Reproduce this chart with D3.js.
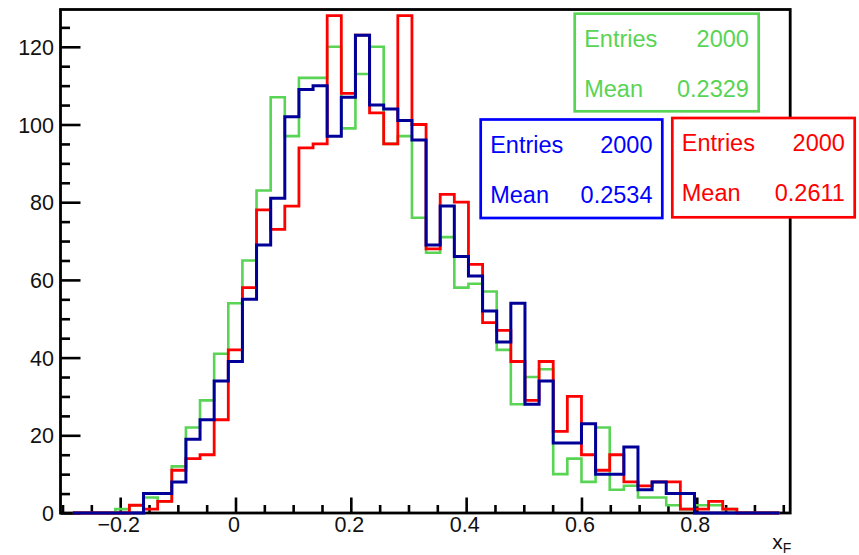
<!DOCTYPE html>
<html><head><meta charset="utf-8">
<script src="https://cdn.jsdelivr.net/npm/d3@7"></script>
<style>
html,body{margin:0;padding:0;background:#fff;}
svg{display:block;font-family:"Liberation Sans",Arial,Helvetica,sans-serif;}
</style>
</head><body>
<svg id="c" width="859" height="555"></svg>
<script>
// ---------------- data ----------------
const binLow = -0.282;
const binWidth = 0.0245;
const greenCounts = [0,0,0,1,2,4,3,12,22,29,41,54,65,83,107,97,112,112,120,99,113,120,95,97,76,67,71,58,59,57,42,28,35,37,10,14,8,22,6,7,4,4,2,1,2,2,1,0,0,0];
const redCounts   = [0,0,0,0,2,1,3,11,14,15,24,42,58,78,73,79,94,95,128,108,123,103,95,128,100,68,82,80,64,49,47,39,29,39,21,30,15,11,15,8,7,8,8,1,1,3,1,0,0,0];
const blueCounts  = [0,0,0,0,0,5,5,8,19,24,34,39,55,69,81,102,109,110,97,107,123,105,104,101,96,69,79,66,61,52,44,54,28,34,18,18,23,10,10,17,6,8,5,5,0,0,0,0,0,0];
const xMajorTicks = [-0.2,0,0.2,0.4,0.6,0.8];
const xTickLabels = ["\u22120.2","0","0.2","0.4","0.6","0.8"];
const xMinorTicks = [-0.3,-0.25,-0.15,-0.1,-0.05,0.05,0.1,0.15,0.25,0.3,0.35,0.45,0.5,0.55,0.65,0.7,0.75,0.85,0.9,0.95];
const yMajorTicks = [0,20,40,60,80,100,120];
const yTickLabels = ["0","20","40","60","80","100","120"];
const yMinorTicks = [5,10,15,25,30,35,45,50,55,65,70,75,85,90,95,105,110,115,125];
const statEntries = ["2000","2000","2000"];
const statMeans = ["0.2329","0.2534","0.2611"];
const statLabels = ["Entries","Mean"];
const xTitle = "x", xTitleSub = "F";

// ---------------- layout / style ----------------
const F = {left:60.5, right:790.2, top:9.5, bottom:513};
const xDomain = [-0.3035, 0.962];
const yDomain = [0, 129.6];
const histColors = {green:"#59d454", red:"#ff0000", blue:"#000099"};
const boxColors = ["#59d454", "#0000ff", "#ff0000"];
const boxes = [
  {x0:574.7, x1:758.7, y0:13.7, y1:111.3},
  {x0:480.7, x1:662.3, y0:119.5, y1:218},
  {x0:672.3, x1:854.7, y0:118, y1:217.3}
];

const svg = d3.select("#c");
svg.append("rect").attr("width",859).attr("height",555).attr("fill","#fff");

const x = d3.scaleLinear().domain(xDomain).range([F.left, F.right]);
const y = d3.scaleLinear().domain(yDomain).range([F.bottom, F.top]);

// axes (ticks inward)
const gx = svg.append("g").attr("transform",`translate(0,${F.bottom})`)
  .call(d3.axisBottom(x).tickValues(xMajorTicks).tickSizeInner(-15.5).tickSizeOuter(0)
        .tickFormat((d,i)=>xTickLabels[i]));
const gxm = svg.append("g").attr("transform",`translate(0,${F.bottom})`)
  .call(d3.axisBottom(x).tickValues(xMinorTicks).tickSizeInner(-8).tickSizeOuter(0).tickFormat(""));
const gy = svg.append("g").attr("transform",`translate(${F.left},0)`)
  .call(d3.axisLeft(y).tickValues(yMajorTicks).tickSizeInner(-20).tickSizeOuter(0)
        .tickFormat((d,i)=>yTickLabels[i]));
const gym = svg.append("g").attr("transform",`translate(${F.left},0)`)
  .call(d3.axisLeft(y).tickValues(yMinorTicks).tickSizeInner(-9.5).tickSizeOuter(0).tickFormat(""));

[gx,gxm,gy,gym].forEach(g=>{
  g.select(".domain").remove();
  g.selectAll(".tick line").attr("stroke","#000").attr("stroke-width",2.6);
});
gx.selectAll(".tick text").attr("y",19).attr("dy",0).attr("dx",-2)
  .attr("font-size",21.5).attr("fill","#111").attr("font-family","Liberation Sans, Arial, sans-serif");
gy.selectAll(".tick text").attr("x",-6.5).attr("dy","0.35em")
  .attr("font-size",21.5).attr("fill","#111").attr("font-family","Liberation Sans, Arial, sans-serif");

// frame
svg.append("rect").attr("x",F.left).attr("y",F.top)
  .attr("width",F.right-F.left).attr("height",F.bottom-F.top)
  .attr("fill","none").attr("stroke","#000").attr("stroke-width",2.8);

// histograms
function stepPoints(counts){
  const pts = [[binLow,0]];
  counts.forEach((n,k)=>{
    pts.push([binLow+k*binWidth, n]);
    pts.push([binLow+(k+1)*binWidth, n]);
  });
  pts.push([binLow+counts.length*binWidth,0]);
  return pts;
}
const line = d3.line().x(d=>x(d[0])).y(d=>y(d[1]));
[["green",greenCounts,2.6],["red",redCounts,2.8],["blue",blueCounts,3]].forEach(([c,counts,w])=>{
  svg.append("path").attr("d",line(stepPoints(counts)))
    .attr("fill","none").attr("stroke",histColors[c]).attr("stroke-width",w)
    .attr("stroke-linejoin","miter").attr("stroke-linecap","butt");
});

// stat boxes
boxes.forEach((b,i)=>{
  const g = svg.append("g");
  g.append("rect").attr("x",b.x0).attr("y",b.y0).attr("width",b.x1-b.x0).attr("height",b.y1-b.y0)
    .attr("fill","#fff").attr("stroke",boxColors[i]).attr("stroke-width",2.7);
  const vals = [statEntries[i], statMeans[i]];
  statLabels.forEach((lab,j)=>{
    const by = b.y0 + 33.3 + j*49.8;
    g.append("text").attr("x",b.x0+9.5).attr("y",by).attr("font-size",23.5)
      .attr("fill",boxColors[i]).text(lab);
    g.append("text").attr("x",b.x1-9.8).attr("y",by).attr("font-size",23.5)
      .attr("text-anchor","end").attr("fill",boxColors[i]).text(vals[j]);
  });
});

// x-axis title
const tt = svg.append("text").attr("x",F.right+1).attr("y",548.5).attr("text-anchor","end")
  .attr("font-size",21).attr("fill","#111");
tt.append("tspan").text(xTitle);
tt.append("tspan").attr("font-size",14).attr("dy",4.5).text(xTitleSub);
</script>
</body></html>
